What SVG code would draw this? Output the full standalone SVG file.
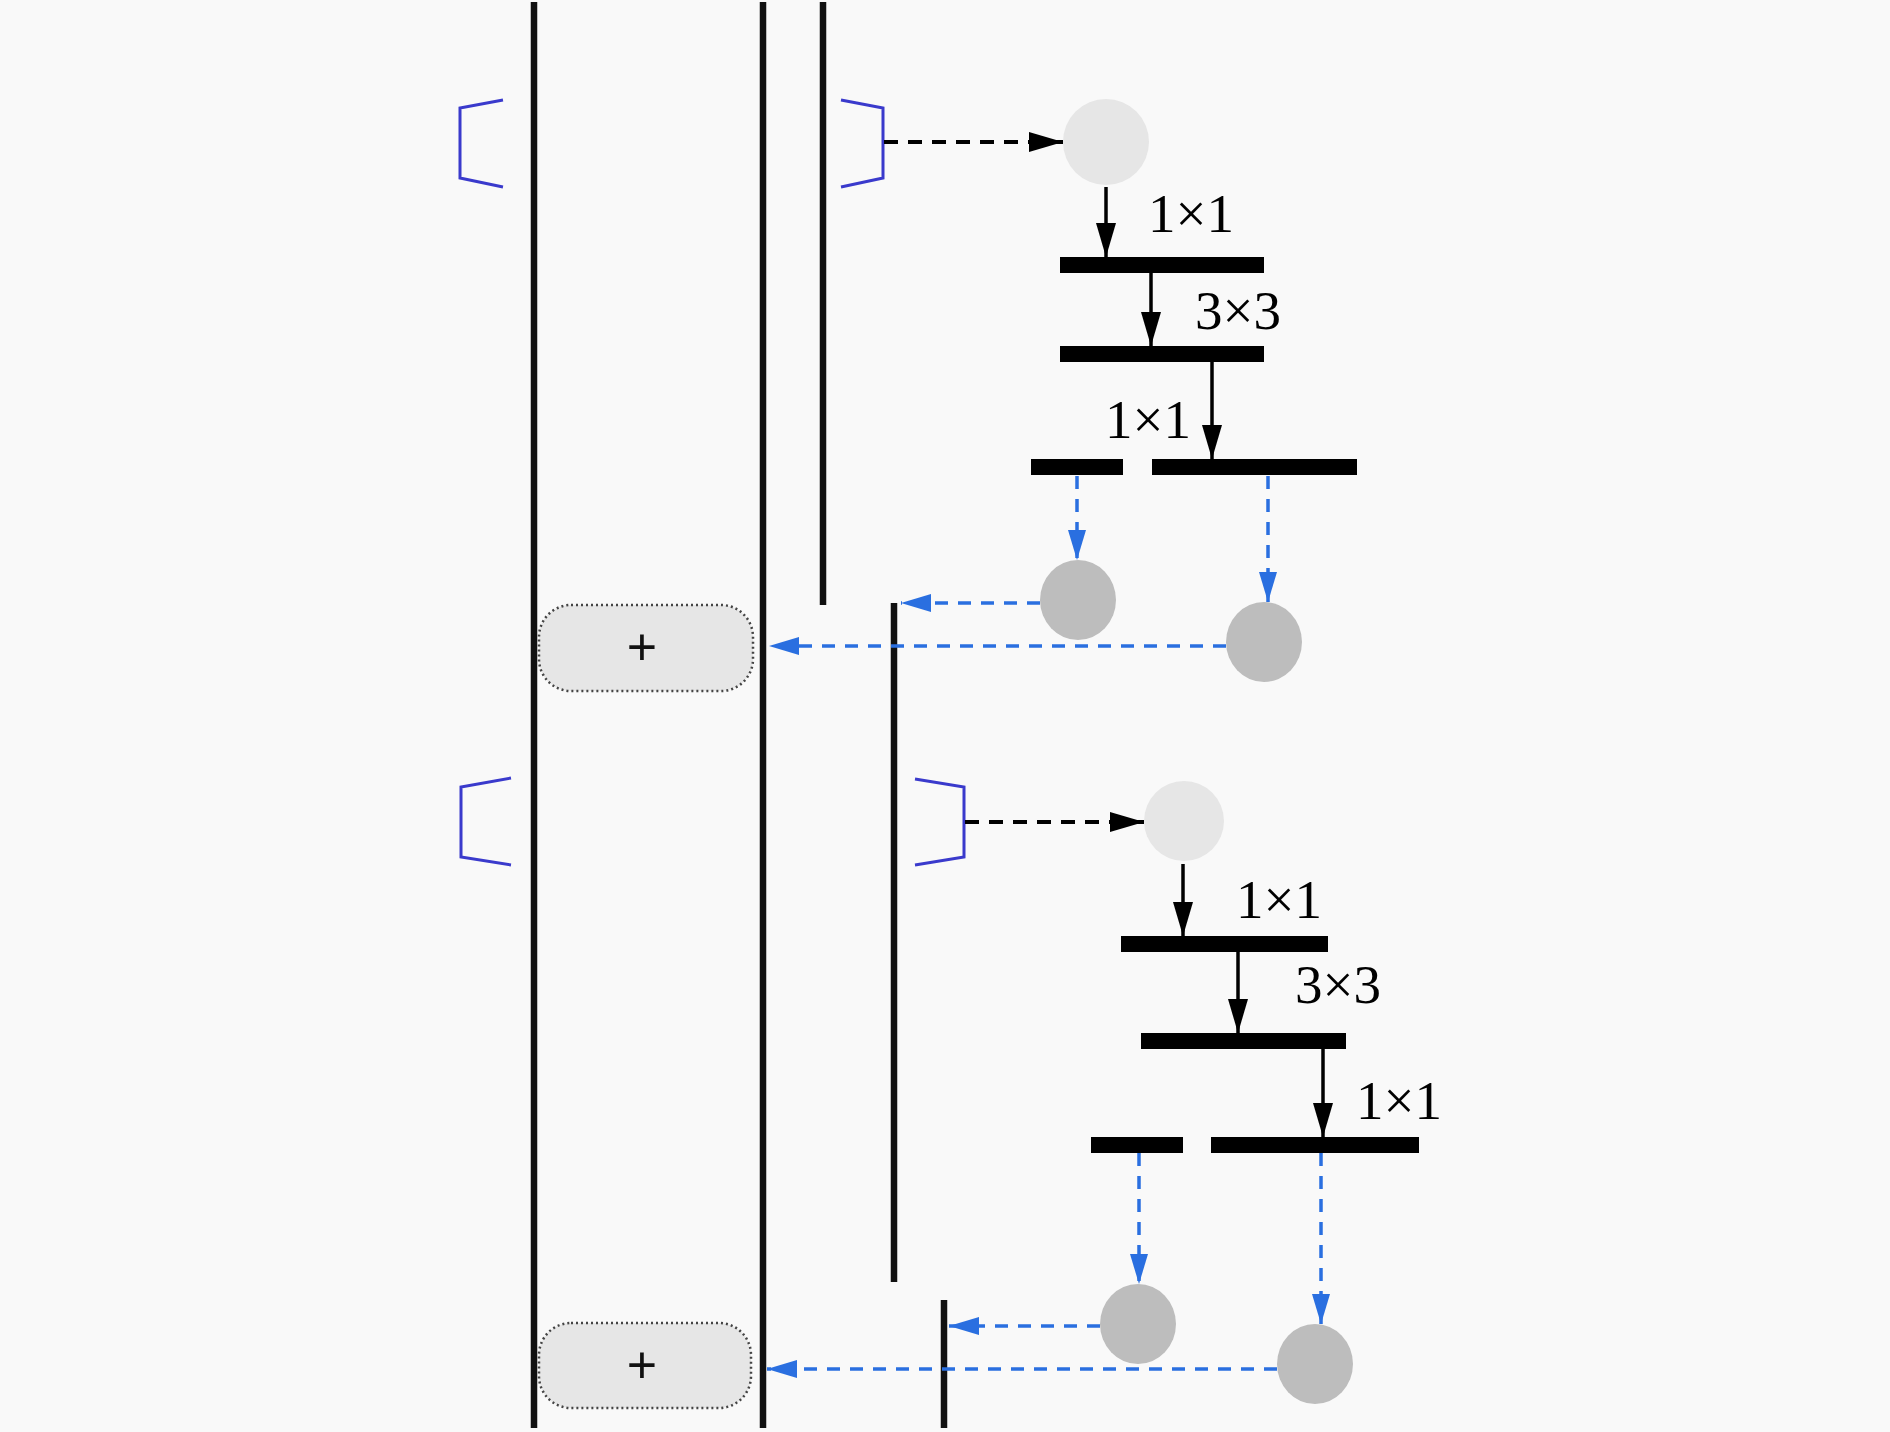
<svg xmlns="http://www.w3.org/2000/svg" width="1890" height="1432" viewBox="0 0 1890 1432">
<style>
.bg{fill:#f9f9f9}
.vl{stroke:#111;stroke-width:6.5;fill:none}
.br{stroke:#3a3acc;stroke-width:3;fill:none;stroke-linejoin:miter}
.bar{fill:#000}
.big{fill:#e6e6e6}
.small{fill:#bdbdbd}
.plus{fill:#e6e6e6;stroke:#444;stroke-width:2.5;stroke-dasharray:2 3}
.ptxt{font-family:"Liberation Sans",Arial,sans-serif;font-size:52px;fill:#111;text-anchor:middle}
.lbl{font-family:"Liberation Serif","Times New Roman",serif;font-size:55px;fill:#000}
.kd{stroke:#000;stroke-width:4;stroke-dasharray:14 10;fill:none}
.ks{stroke:#000;stroke-width:3.5;fill:none}
.bd{stroke:#2a6fe0;stroke-width:3.5;stroke-dasharray:13 10;fill:none}
</style>
<defs>
<marker id="ak" markerUnits="userSpaceOnUse" markerWidth="36" markerHeight="22" refX="34" refY="10" orient="auto">
<path d="M0,0 L34,10 L0,20 Z" fill="#000"/>
</marker>
<marker id="ab" markerUnits="userSpaceOnUse" markerWidth="32" markerHeight="20" refX="30" refY="9" orient="auto">
<path d="M0,0 L30,9 L0,18 Z" fill="#2a6fe0"/>
</marker>
</defs>
<rect class="bg" x="0" y="0" width="1890" height="1432"/>

<g id="rails">
<line class="vl" x1="534" y1="2" x2="534" y2="1428"/>
<line class="vl" x1="763" y1="2" x2="763" y2="1428"/>
<line class="vl" x1="823" y1="2" x2="823" y2="605"/>
<line class="vl" x1="894" y1="603" x2="894" y2="1282"/>
<line class="vl" x1="944" y1="1300" x2="944" y2="1428"/>
</g>

<g id="brackets">
<path class="br" d="M503,100 L460,108 L460,178 L503,187"/>
<path class="br" d="M841,100 L883,108 L883,178 L841,187"/>
<path class="br" d="M511,778 L461,787 L461,857 L511,865"/>
<path class="br" d="M915,779 L964,787 L964,857 L915,865"/>
</g>

<g id="block1">
<circle id="in1" class="big" cx="1106" cy="142" r="43"/>
<rect id="b1a" class="bar" x="1060" y="257" width="204" height="16"/>
<rect id="b1b" class="bar" x="1060" y="346" width="204" height="16"/>
<rect id="b1c" class="bar" x="1031" y="459" width="92" height="16"/>
<rect id="b1d" class="bar" x="1152" y="459" width="205" height="16"/>
<ellipse id="o1a" class="small" cx="1078" cy="600" rx="38" ry="40"/>
<ellipse id="o1b" class="small" cx="1264" cy="642" rx="38" ry="40"/>
<text class="lbl" x="1148" y="232">1×1</text>
<text class="lbl" x="1195" y="329">3×3</text>
<text class="lbl" x="1105" y="438">1×1</text>
</g>
<g id="plus1">
<rect class="plus" x="539" y="605" width="214" height="86" rx="32"/>
<text class="ptxt" x="642" y="665">+</text>
</g>

<g id="block2">
<circle id="in2" class="big" cx="1184" cy="821" r="40"/>
<rect id="b2a" class="bar" x="1121" y="936" width="207" height="16"/>
<rect id="b2b" class="bar" x="1141" y="1033" width="205" height="16"/>
<rect id="b2c" class="bar" x="1091" y="1137" width="92" height="16"/>
<rect id="b2d" class="bar" x="1211" y="1137" width="208" height="16"/>
<ellipse id="o2a" class="small" cx="1138" cy="1324" rx="38" ry="40"/>
<ellipse id="o2b" class="small" cx="1315" cy="1364" rx="38" ry="40"/>
<text class="lbl" x="1236" y="918">1×1</text>
<text class="lbl" x="1295" y="1003">3×3</text>
<text class="lbl" x="1356" y="1119">1×1</text>
</g>
<g id="plus2">
<rect class="plus" x="539" y="1323" width="212" height="85" rx="32"/>
<text class="ptxt" x="642" y="1383">+</text>
</g>

<g id="connectors">
<line class="kd" x1="884" y1="142" x2="1063" y2="142" marker-end="url(#ak)"/>
<line class="ks" x1="1106" y1="187" x2="1106" y2="257" marker-end="url(#ak)"/>
<line class="ks" x1="1151" y1="273" x2="1151" y2="346" marker-end="url(#ak)"/>
<line class="ks" x1="1212" y1="362" x2="1212" y2="459" marker-end="url(#ak)"/>
<line class="bd" x1="1077" y1="476" x2="1077" y2="560" marker-end="url(#ab)"/>
<line class="bd" x1="1268" y1="476" x2="1268" y2="602" marker-end="url(#ab)"/>
<line class="bd" x1="1040" y1="603" x2="901" y2="603" marker-end="url(#ab)"/>
<line class="bd" x1="1226" y1="646" x2="769" y2="646" marker-end="url(#ab)"/>

<line class="kd" x1="965" y1="822" x2="1144" y2="822" marker-end="url(#ak)"/>
<line class="ks" x1="1183" y1="864" x2="1183" y2="936" marker-end="url(#ak)"/>
<line class="ks" x1="1238" y1="952" x2="1238" y2="1033" marker-end="url(#ak)"/>
<line class="ks" x1="1323" y1="1049" x2="1323" y2="1137" marker-end="url(#ak)"/>
<line class="bd" x1="1139" y1="1153" x2="1139" y2="1284" marker-end="url(#ab)"/>
<line class="bd" x1="1321" y1="1153" x2="1321" y2="1324" marker-end="url(#ab)"/>
<line class="bd" x1="1100" y1="1326" x2="949" y2="1326" marker-end="url(#ab)"/>
<line class="bd" x1="1277" y1="1369" x2="767" y2="1369" marker-end="url(#ab)"/>
</g>
</svg>
